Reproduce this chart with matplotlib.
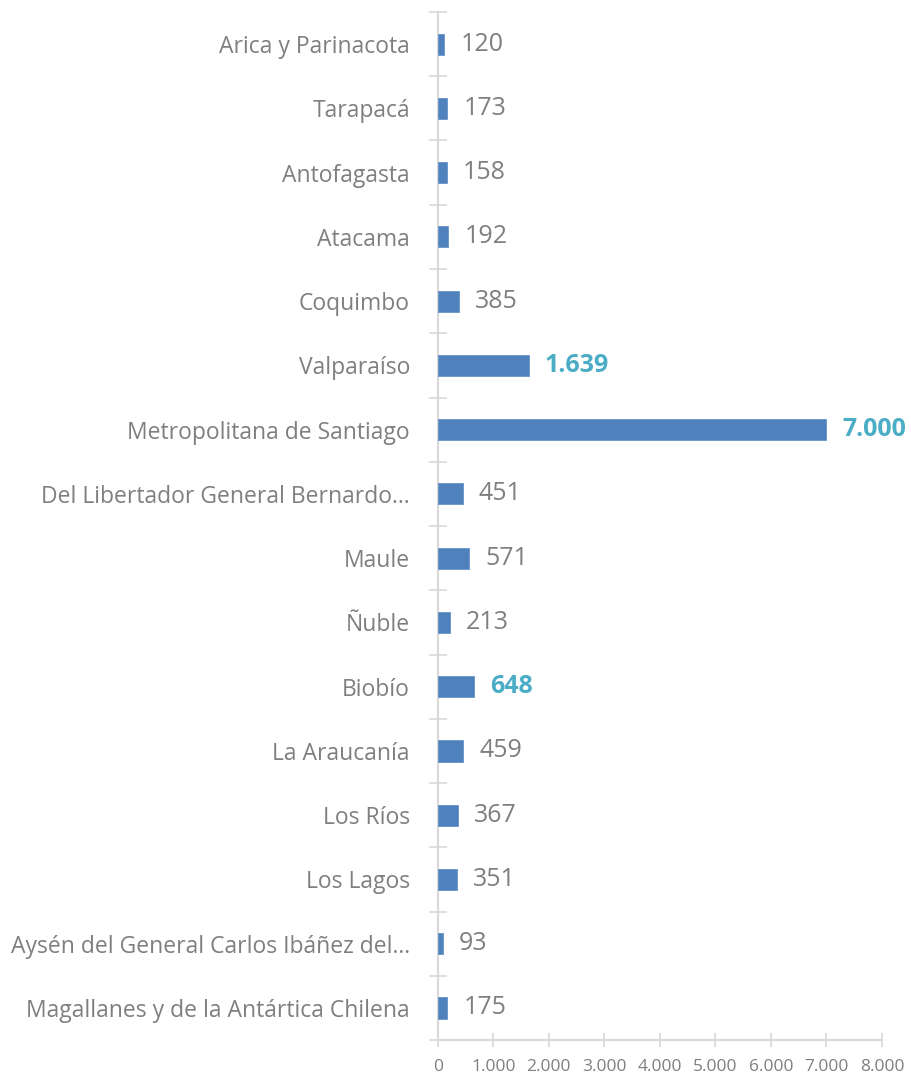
import matplotlib
matplotlib.use("Agg")
import matplotlib.pyplot as plt
from matplotlib.ticker import FuncFormatter

categories = ["Arica y Parinacota", "Tarapacá", "Antofagasta", "Atacama", "Coquimbo",
              "Valparaíso", "Metropolitana de Santiago", "Del Libertador General Bernardo...",
              "Maule", "Ñuble", "Biobío", "La Araucanía", "Los Ríos", "Los Lagos",
              "Aysén del General Carlos Ibáñez del...", "Magallanes y de la Antártica Chilena"]
values = [120, 173, 158, 192, 385, 1639, 7000, 451, 571, 213, 648, 459, 367, 351, 93, 175]
highlight = ["Valparaíso", "Metropolitana de Santiago", "Biobío"]
xticks = [0, 1000, 2000, 3000, 4000, 5000, 6000, 7000, 8000]

plt.rcParams['font.family'] = ['Open Sans', 'DejaVu Sans']
fig = plt.figure(figsize=(9.12, 10.79), dpi=100)
ax = fig.add_axes([0.480, 0.0361, 0.487, 0.9528])

n = len(categories)
ypos = list(range(n))
ax.barh(ypos, values, height=0.33, color="#4F81BD", edgecolor="#6A93C9", linewidth=0.6, zorder=3)
ax.set_ylim(n - 0.5, -0.5)
ax.set_xlim(0, 8000)

def fmt(v):
    return f"{int(v):,}".replace(",", ".")

for y, v, c in zip(ypos, values, categories):
    if c in highlight:
        ax.text(v + 290, y, fmt(v), va="center", ha="left", fontsize=18,
                color="#4BACC6", fontweight="bold")
    else:
        ax.text(v + 290, y, fmt(v), va="center", ha="left", fontsize=18, color="#7F7F7F")

ax.set_yticks(ypos)
ax.set_yticklabels(categories, fontsize=16.5, color="#7F7F7F")
ax.set_yticks([i + 0.5 for i in range(-1, n)], minor=True)
ax.tick_params(axis="y", which="major", length=0, pad=20)
ax.tick_params(axis="y", which="minor", direction="inout", length=13, width=1.2, color="#D9D9D9")

ax.set_xticks(xticks)
ax.xaxis.set_major_formatter(FuncFormatter(lambda v, p: fmt(v)))
ax.tick_params(axis="x", direction="inout", length=10, width=1.2, color="#D9D9D9",
               labelsize=12.5, labelcolor="#7F7F7F", pad=9)

for s in ["top", "right"]:
    ax.spines[s].set_visible(False)
for s in ["left", "bottom"]:
    ax.spines[s].set_color("#D9D9D9")
    ax.spines[s].set_linewidth(1.5)

fig.savefig("out.png", dpi=100)
